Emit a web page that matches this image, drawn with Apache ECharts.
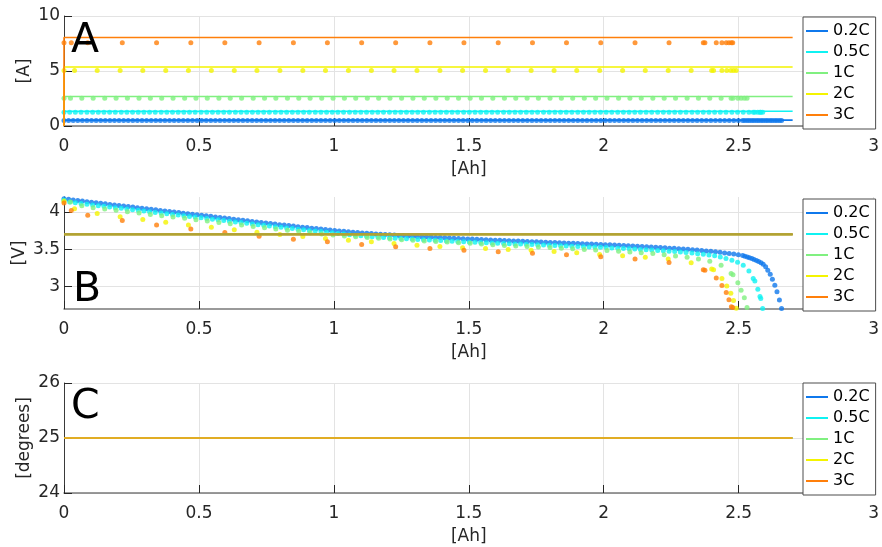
<!DOCTYPE html>
<html>
<head>
<meta charset="utf-8">
<script src="https://cdn.jsdelivr.net/npm/echarts@6/dist/echarts.min.js"></script>
<style>
  html, body { margin: 0; padding: 0; background: #fff; }
  #chart { width: 882px; height: 547px; }
</style>
</head>
<body>
<div id="chart"></div>
<script>
// Discharge runs at five C-rates: current, terminal voltage and temperature vs. discharged capacity
const rates = ['0.2C', '0.5C', '1C', '2C', '3C'];
const colors = ['#0f78ec', '#0ff2f2', '#80f080', '#f4f400', '#ff7f0a'];

// Current setpoint [A] and measured current [A]
const setpointCurrent = [0.536, 1.34, 2.68, 5.36, 8.04];
const measuredCurrent = [0.50, 1.26, 2.52, 5.04, 7.56];
const setpointEndAh = 2.7;
const cutoffVoltage = 3.7;      // [V]
const ambientTemp = 25;         // [degrees]

// Sampled capacity [Ah] and voltage [V] per run
const ah02 = [
  0.000, 0.017, 0.034, 0.051, 0.068, 0.085, 0.102, 0.119, 0.136, 0.153,
  0.170, 0.187, 0.204, 0.221, 0.238, 0.255, 0.272, 0.289, 0.306, 0.323,
  0.340, 0.357, 0.374, 0.391, 0.408, 0.425, 0.442, 0.459, 0.476, 0.493,
  0.510, 0.527, 0.544, 0.561, 0.578, 0.595, 0.612, 0.629, 0.646, 0.663,
  0.680, 0.697, 0.714, 0.731, 0.748, 0.765, 0.782, 0.799, 0.816, 0.833,
  0.850, 0.867, 0.884, 0.901, 0.918, 0.935, 0.952, 0.969, 0.986, 1.003,
  1.020, 1.037, 1.054, 1.071, 1.088, 1.105, 1.122, 1.139, 1.156, 1.173,
  1.190, 1.207, 1.224, 1.241, 1.258, 1.275, 1.292, 1.309, 1.326, 1.343,
  1.360, 1.377, 1.394, 1.411, 1.428, 1.445, 1.462, 1.479, 1.496, 1.513,
  1.530, 1.547, 1.564, 1.581, 1.598, 1.615, 1.632, 1.649, 1.666, 1.683,
  1.700, 1.717, 1.734, 1.751, 1.768, 1.785, 1.802, 1.819, 1.836, 1.853,
  1.870, 1.887, 1.904, 1.921, 1.938, 1.955, 1.972, 1.989, 2.006, 2.023,
  2.040, 2.057, 2.074, 2.091, 2.108, 2.125, 2.142, 2.159, 2.176, 2.193,
  2.210, 2.227, 2.244, 2.261, 2.278, 2.295, 2.312, 2.329, 2.346, 2.363,
  2.380, 2.397, 2.414, 2.431, 2.448, 2.465, 2.482, 2.499,
  2.515, 2.523, 2.532, 2.540, 2.549, 2.557, 2.566, 2.574, 2.583, 2.591,
  2.600, 2.608, 2.617, 2.625, 2.634, 2.642, 2.651, 2.659
];
const v02 = [
  4.177, 4.169, 4.161, 4.153, 4.145, 4.137, 4.129, 4.122, 4.115, 4.108,
  4.101, 4.093, 4.086, 4.079, 4.072, 4.065, 4.057, 4.050, 4.042, 4.035,
  4.028, 4.020, 4.013, 4.006, 3.999, 3.992, 3.984, 3.977, 3.970, 3.963,
  3.956, 3.948, 3.941, 3.933, 3.926, 3.918, 3.911, 3.903, 3.896, 3.888,
  3.881, 3.873, 3.866, 3.859, 3.852, 3.845, 3.838, 3.830, 3.824, 3.817,
  3.810, 3.803, 3.796, 3.790, 3.783, 3.777, 3.770, 3.764, 3.757, 3.751,
  3.745, 3.740, 3.734, 3.729, 3.724, 3.719, 3.714, 3.710, 3.706, 3.702,
  3.697, 3.693, 3.690, 3.686, 3.683, 3.679, 3.676, 3.672, 3.669, 3.666,
  3.663, 3.659, 3.656, 3.653, 3.650, 3.647, 3.644, 3.642, 3.639, 3.636,
  3.633, 3.630, 3.628, 3.625, 3.622, 3.620, 3.617, 3.615, 3.612, 3.610,
  3.607, 3.604, 3.602, 3.599, 3.597, 3.594, 3.592, 3.589, 3.587, 3.585,
  3.582, 3.580, 3.577, 3.575, 3.572, 3.570, 3.567, 3.565, 3.562, 3.559,
  3.556, 3.553, 3.550, 3.547, 3.543, 3.540, 3.537, 3.533, 3.530, 3.526,
  3.523, 3.519, 3.515, 3.512, 3.508, 3.504, 3.499, 3.494, 3.489, 3.483,
  3.478, 3.473, 3.466, 3.459, 3.451, 3.443, 3.436, 3.428,
  3.415, 3.407, 3.398, 3.388, 3.375, 3.362, 3.348, 3.335, 3.318, 3.298,
  3.265, 3.220, 3.165, 3.097, 3.017, 2.930, 2.820, 2.707
];
const ah05 = [
  0.000, 0.021, 0.042, 0.063, 0.085, 0.106, 0.127, 0.148, 0.169, 0.190,
  0.212, 0.233, 0.254, 0.275, 0.296, 0.317, 0.338, 0.360, 0.381, 0.402,
  0.423, 0.444, 0.465, 0.486, 0.508, 0.529, 0.550, 0.571, 0.592, 0.613,
  0.635, 0.656, 0.677, 0.698, 0.719, 0.740, 0.761, 0.783, 0.804, 0.825,
  0.846, 0.867, 0.888, 0.909, 0.931, 0.952, 0.973, 0.994, 1.015, 1.036,
  1.058, 1.079, 1.100, 1.121, 1.142, 1.163, 1.184, 1.206, 1.227, 1.248,
  1.269, 1.290, 1.311, 1.332, 1.354, 1.375, 1.396, 1.417, 1.438, 1.459,
  1.481, 1.502, 1.523, 1.544, 1.565, 1.586, 1.607, 1.629, 1.650, 1.671,
  1.692, 1.713, 1.734, 1.755, 1.777, 1.798, 1.819, 1.840, 1.861, 1.882,
  1.904, 1.925, 1.946, 1.967, 1.988, 2.009, 2.030, 2.052, 2.073, 2.094,
  2.115, 2.136, 2.157, 2.178, 2.200, 2.221, 2.242, 2.263, 2.284, 2.305,
  2.327, 2.348, 2.369, 2.390, 2.411, 2.432, 2.453, 2.475, 2.496, 2.517,
  2.538, 2.554, 2.560, 2.571, 2.579, 2.582, 2.589
];
const v05 = [
  4.160, 4.133, 4.123, 4.113, 4.103, 4.093, 4.084, 4.075, 4.066, 4.057,
  4.048, 4.039, 4.030, 4.021, 4.012, 4.003, 3.994, 3.985, 3.976, 3.967,
  3.958, 3.949, 3.940, 3.931, 3.922, 3.913, 3.903, 3.894, 3.885, 3.875,
  3.866, 3.857, 3.848, 3.839, 3.830, 3.821, 3.812, 3.803, 3.795, 3.786,
  3.778, 3.769, 3.761, 3.753, 3.745, 3.737, 3.729, 3.721, 3.712, 3.703,
  3.695, 3.688, 3.681, 3.675, 3.669, 3.664, 3.659, 3.654, 3.649, 3.645,
  3.640, 3.636, 3.632, 3.628, 3.624, 3.620, 3.616, 3.612, 3.609, 3.605,
  3.602, 3.598, 3.595, 3.591, 3.588, 3.585, 3.582, 3.578, 3.575, 3.572,
  3.569, 3.566, 3.563, 3.560, 3.557, 3.553, 3.550, 3.547, 3.544, 3.541,
  3.538, 3.535, 3.532, 3.529, 3.526, 3.522, 3.518, 3.514, 3.510, 3.506,
  3.502, 3.498, 3.494, 3.489, 3.485, 3.480, 3.474, 3.469, 3.463, 3.456,
  3.449, 3.441, 3.432, 3.423, 3.412, 3.398, 3.378, 3.352, 3.325, 3.285,
  3.210, 3.107, 3.075, 2.963, 2.867, 2.840, 2.707
];
const ah1 = [
  0.000,
  0.024, 0.066, 0.108, 0.151, 0.193, 0.235, 0.278, 0.320, 0.362, 0.404,
  0.447, 0.489, 0.531, 0.574, 0.616, 0.658, 0.701, 0.743, 0.785, 0.828,
  0.870, 0.912, 0.955, 0.997, 1.039, 1.081, 1.124, 1.166, 1.208, 1.251,
  1.293, 1.335, 1.378, 1.420, 1.462, 1.505, 1.547, 1.589, 1.632, 1.674,
  1.716, 1.758, 1.801, 1.843, 1.885, 1.928, 1.970, 2.012, 2.055, 2.097,
  2.139, 2.182, 2.224, 2.266, 2.309, 2.351, 2.393, 2.435,
  2.472, 2.479, 2.497, 2.509, 2.521, 2.531
];
const v1 = [
  4.150,
  4.133, 4.084, 4.057, 4.040, 4.021, 4.003, 3.985, 3.967, 3.949, 3.932,
  3.914, 3.896, 3.878, 3.860, 3.842, 3.824, 3.806, 3.789, 3.772, 3.755,
  3.737, 3.721, 3.706, 3.692, 3.679, 3.667, 3.656, 3.646, 3.637, 3.628,
  3.620, 3.612, 3.604, 3.596, 3.588, 3.579, 3.570, 3.561, 3.552, 3.544,
  3.536, 3.529, 3.522, 3.515, 3.506, 3.498, 3.490, 3.482, 3.473, 3.464,
  3.454, 3.442, 3.428, 3.411, 3.392, 3.370, 3.338, 3.285,
  3.175, 3.160, 3.053, 2.950, 2.850, 2.720
];
const ah2 = [
  0.000, 0.039, 0.123, 0.208, 0.292, 0.377, 0.461, 0.546, 0.631, 0.715,
  0.800, 0.885, 0.969, 1.054, 1.139, 1.223, 1.308, 1.393, 1.477, 1.562,
  1.646, 1.731, 1.816, 1.900, 1.985, 2.070, 2.154, 2.239, 2.324,
  2.400, 2.407, 2.438, 2.456, 2.471, 2.481, 2.491
];
const v2 = [
  4.140, 4.044, 3.980, 3.937, 3.900, 3.861, 3.826, 3.795, 3.760, 3.728,
  3.697, 3.670, 3.645, 3.621, 3.600, 3.577, 3.555, 3.537, 3.520, 3.510,
  3.497, 3.488, 3.470, 3.453, 3.430, 3.413, 3.393, 3.370, 3.318,
  3.235, 3.225, 3.110, 3.008, 2.910, 2.815, 2.710
];
const ah3 = [
  0.000, 0.027, 0.088, 0.216, 0.343, 0.470, 0.596, 0.723, 0.850, 0.976,
  1.103, 1.229, 1.356, 1.482, 1.609, 1.736, 1.862, 1.989, 2.116, 2.242,
  2.369, 2.375, 2.417, 2.438, 2.454, 2.464, 2.473, 2.478
];
const v3 = [
  4.120, 4.020, 3.955, 3.884, 3.826, 3.773, 3.724, 3.675, 3.635, 3.600,
  3.564, 3.533, 3.510, 3.488, 3.467, 3.448, 3.427, 3.400, 3.370, 3.324,
  3.225, 3.218, 3.115, 3.015, 2.920, 2.825, 2.730, 2.720
];

// Axis ticks
const xTicks = [0, 0.5, 1, 1.5, 2, 2.5, 3];
const currentTicks = [0, 5, 10];
const voltageTicks = [3, 3.5, 4];
const tempTicks = [24, 25, 26];

const capacityRuns = [ah02, ah05, ah1, ah2, ah3];
const voltageRuns = [v02, v05, v1, v2, v3];

const FONT = 'DejaVu Sans';
const TXT = '#262626';
const GRID_LINE = '#e3e3e3';
const CUTOFF_COLOR = '#b2a232';

const gridBoxes = [
  { left: 64, top: 16, width: 814, height: 110 },
  { left: 64, top: 197, width: 814, height: 112 },
  { left: 64, top: 383, width: 814, height: 110 }
];

function xAxisFor(idx) {
  return {
    type: 'value', gridIndex: idx, min: xTicks[0], max: xTicks[xTicks.length - 1], interval: 0.5,
    name: '[Ah]', nameLocation: 'middle', nameGap: 35, nameMoveOverlap: false,
    nameTextStyle: { fontFamily: FONT, fontSize: 17, color: TXT },
    axisLine: { show: true, onZero: false, lineStyle: { color: '#7a7a7a', width: 1.5 } },
    axisTick: { show: true, inside: true, length: 8, lineStyle: { color: TXT } },
    axisLabel: { fontFamily: FONT, fontSize: 17, color: TXT, margin: 12, formatter: v => String(v) },
    splitLine: { show: true, lineStyle: { color: GRID_LINE, width: 1 } }
  };
}
function yAxisFor(idx, name, ticks, min, max, gap) {
  return {
    type: 'value', gridIndex: idx, min: min, max: max,
    name: name, nameLocation: 'middle', nameGap: gap, nameMoveOverlap: false,
    nameTextStyle: { fontFamily: FONT, fontSize: 17, color: TXT },
    axisLine: { show: true, onZero: false, lineStyle: { color: '#3a3a3a', width: 1 } },
    axisTick: { show: true, inside: true, length: 8, lineStyle: { color: TXT }, customValues: ticks },
    axisLabel: { fontFamily: FONT, fontSize: 17, color: TXT, margin: 4, customValues: ticks, formatter: v => String(v) },
    splitLine: { show: true, lineStyle: { color: GRID_LINE, width: 1 } }
  };
}

const series = [];
rates.forEach((name, i) => {
  const c = colors[i];
  // current: setpoint step line and measured samples
  series.push({
    type: 'line', name, xAxisIndex: 0, yAxisIndex: 0, showSymbol: false, silent: true,
    data: [[0, 0], [0, setpointCurrent[i]], [setpointEndAh, setpointCurrent[i]]],
    lineStyle: { color: c, width: 1.6 }, itemStyle: { color: c }
  });
  series.push({
    type: 'scatter', name, xAxisIndex: 0, yAxisIndex: 0, symbol: 'circle', symbolSize: 5, silent: true,
    data: capacityRuns[i].map(a => [a, measuredCurrent[i]]),
    itemStyle: { color: c }
  });
  // voltage: cut-off reference and measured samples
  series.push({
    type: 'line', name, xAxisIndex: 1, yAxisIndex: 1, showSymbol: false, silent: true,
    data: [[0, cutoffVoltage], [setpointEndAh, cutoffVoltage]],
    lineStyle: { color: CUTOFF_COLOR, width: 1.6 }, itemStyle: { color: c }
  });
  series.push({
    type: 'scatter', name, xAxisIndex: 1, yAxisIndex: 1, symbol: 'circle', symbolSize: 5, silent: true,
    data: capacityRuns[i].map((a, k) => [a, voltageRuns[i][k]]),
    itemStyle: { color: c }
  });
  // temperature
  series.push({
    type: 'line', name, xAxisIndex: 2, yAxisIndex: 2, showSymbol: false, silent: true,
    data: [[0, ambientTemp], [setpointEndAh, ambientTemp]],
    lineStyle: { color: c, width: 1.6, opacity: 0.78 }, itemStyle: { color: c }
  });
});

function legendFor(top) {
  return {
    orient: 'vertical', left: 803, top: top, selectedMode: false,
    data: rates.map((n, i) => ({ name: n, icon: 'rect', itemStyle: { color: colors[i] } })),
    itemWidth: 22, itemHeight: 2, itemGap: 5,
    padding: [6, 6, 6, 3],
    borderColor: '#4d4d4d', borderWidth: 1, backgroundColor: '#fff',
    textStyle: { fontFamily: FONT, fontSize: 16, color: '#000', lineHeight: 16 }
  };
}

const panelLetter = (text, left, top) => ({
  type: 'text', left, top, z: 100, silent: true,
  style: { text, fontFamily: FONT, fontSize: 41, fill: '#000' }
});

const chart = echarts.init(document.getElementById('chart'), null, { renderer: 'canvas' });
chart.setOption({
  animation: false,
  backgroundColor: '#fff',
  textStyle: { fontFamily: FONT },
  grid: gridBoxes,
  xAxis: [xAxisFor(0), xAxisFor(1), xAxisFor(2)],
  yAxis: [
    yAxisFor(0, '[A]', currentTicks, 0, 10, 31),
    yAxisFor(1, '[V]', voltageTicks, 2.7, 4.2, 36),
    yAxisFor(2, '[degrees]', tempTicks, 24, 26, 31)
  ],
  legend: [legendFor(17), legendFor(199), legendFor(383)],
  graphic: [
    panelLetter('A', 71, 21),
    panelLetter('B', 73, 270),
    panelLetter('C', 71, 387)
  ],
  series
});
</script>
</body>
</html>
